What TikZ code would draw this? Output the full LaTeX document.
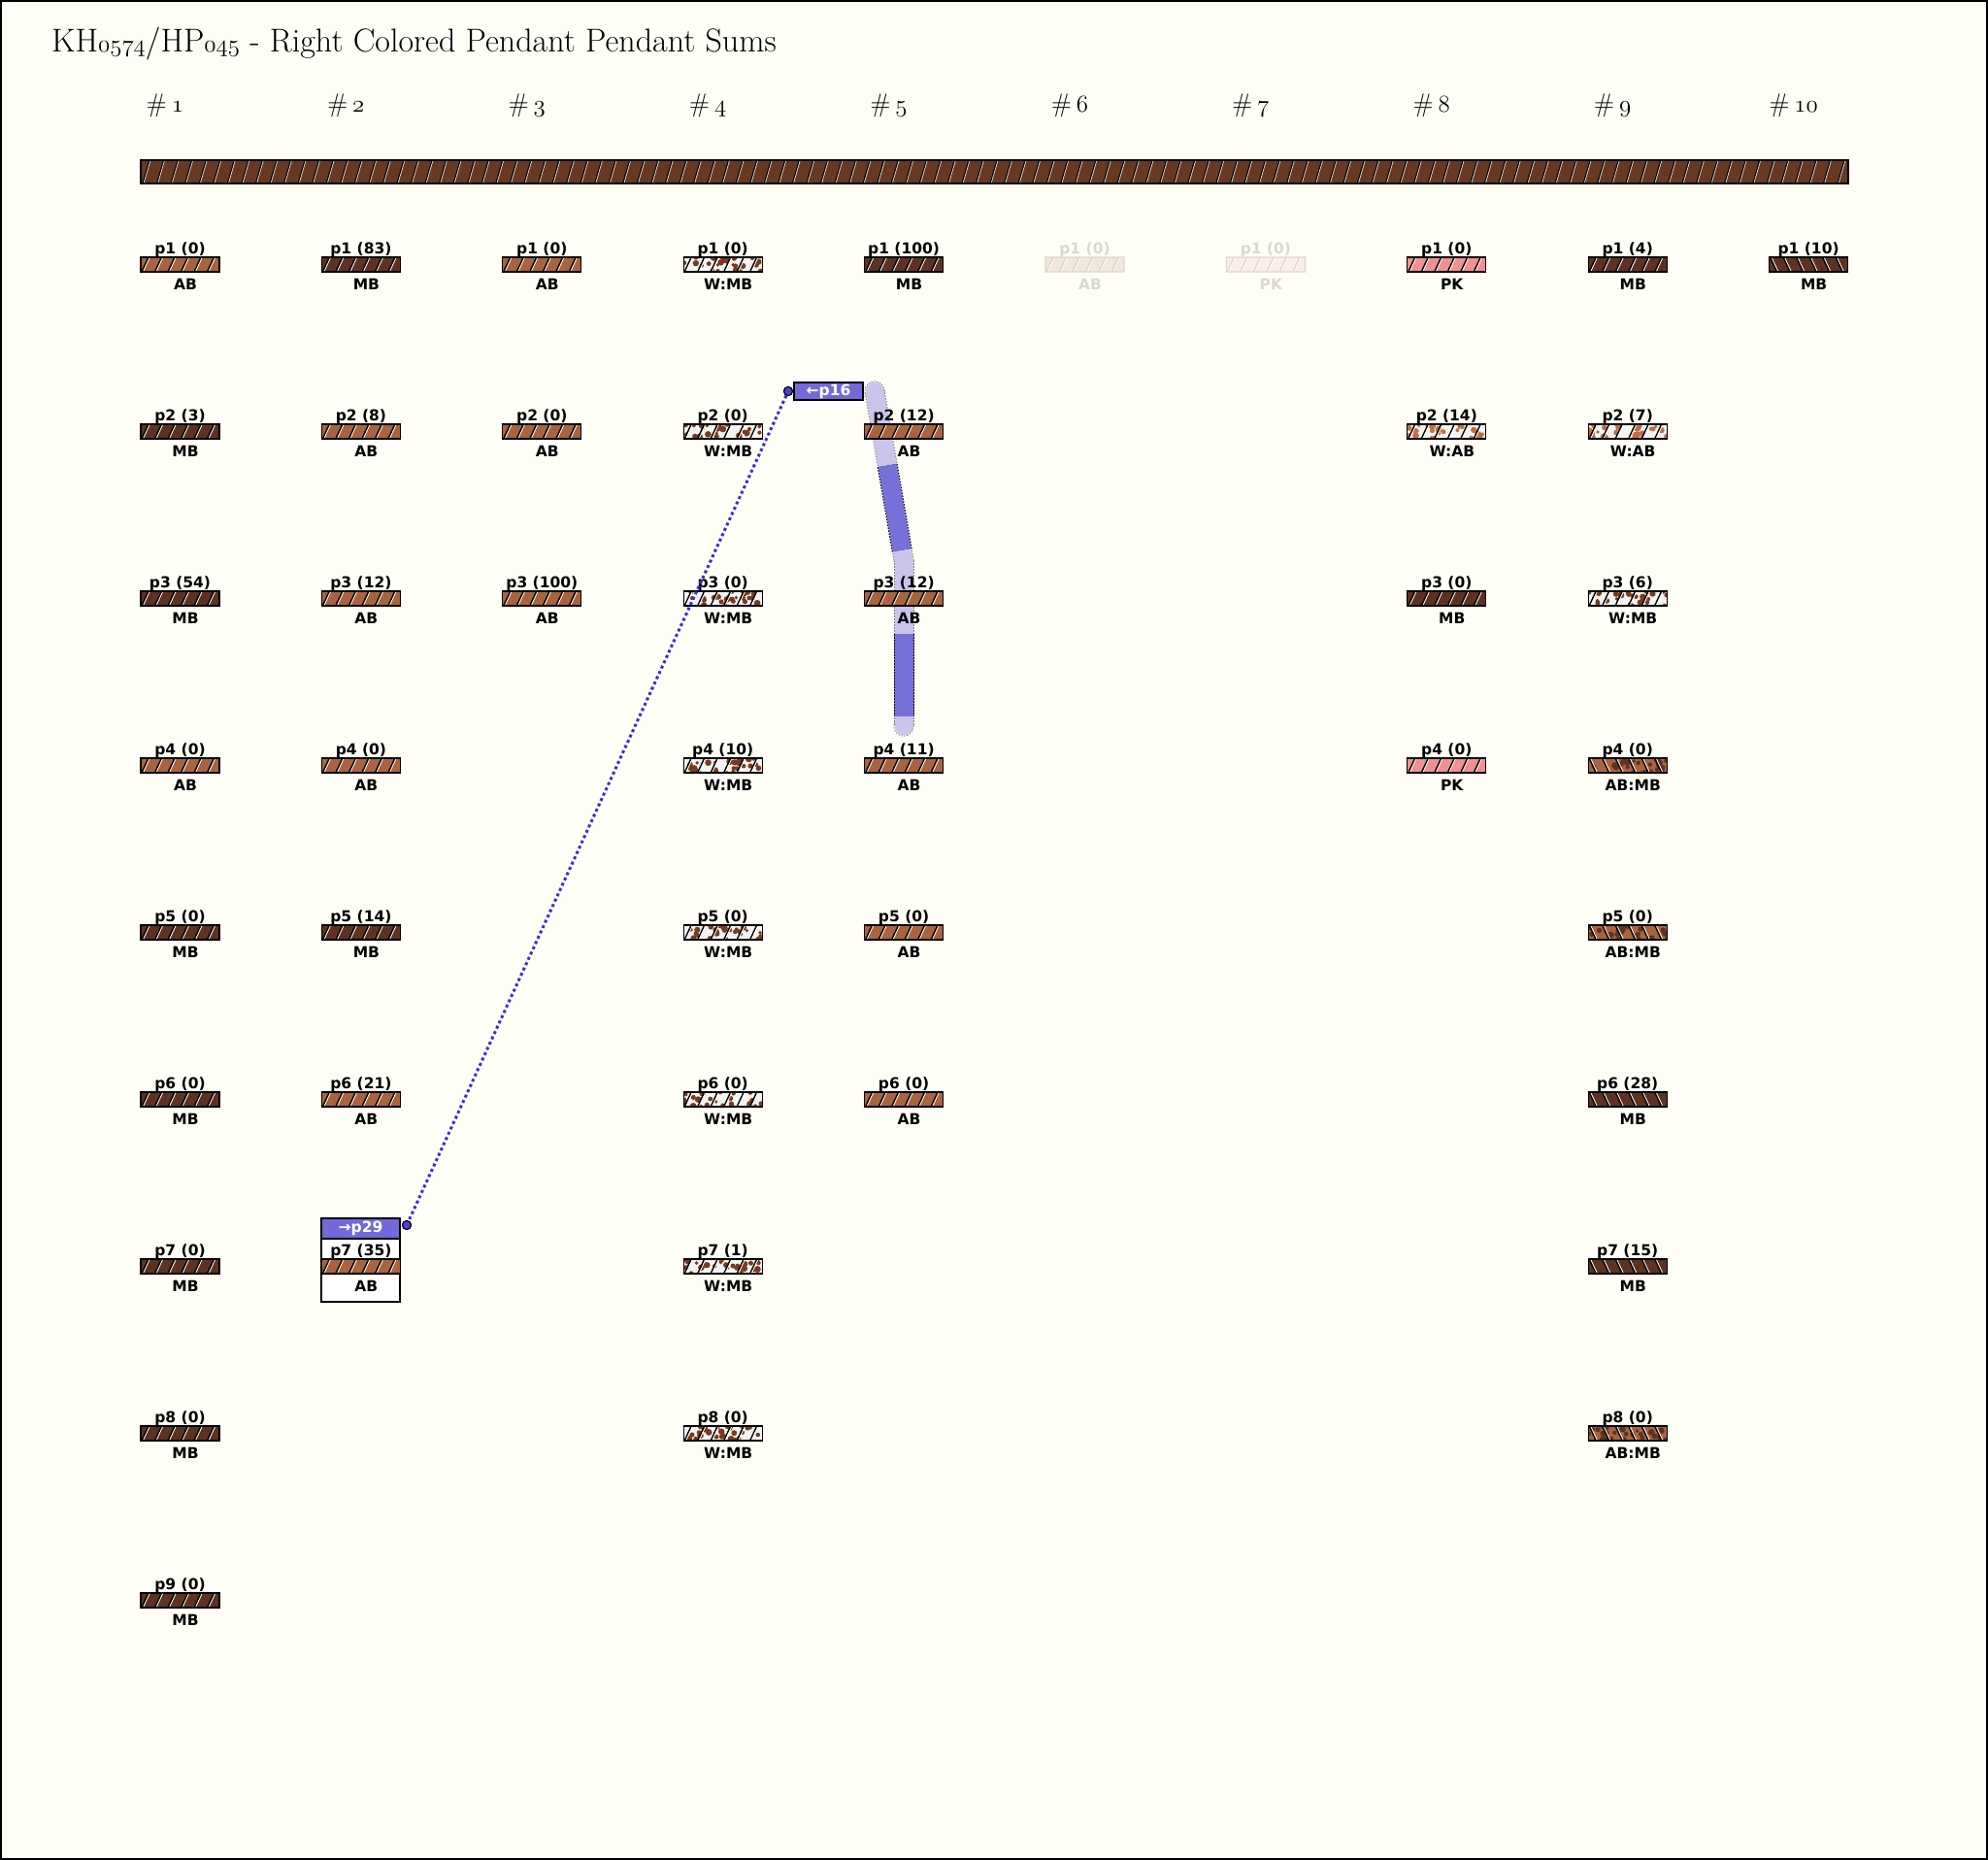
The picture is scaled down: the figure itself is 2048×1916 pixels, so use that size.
\documentclass[tikz,border=0pt]{standalone}
\usepackage{fontspec}
\newfontfamily\labfont{DejaVu Sans}
\usetikzlibrary{calc}
\definecolor{bg}{HTML}{FFFEF6}
\definecolor{abcol}{HTML}{A9643F}
\definecolor{mbcol}{HTML}{5E3220}
\definecolor{cordcol}{HTML}{673922}
\definecolor{pkcol}{HTML}{F09090}
\definecolor{wcol}{HTML}{F3F3F1}
\definecolor{spotmb}{HTML}{7A3A1E}
\definecolor{spotab}{HTML}{C0703F}
\definecolor{hlcol}{HTML}{7469D9}
\definecolor{bandlight}{HTML}{C9C5EB}
\definecolor{banddark}{HTML}{7670D9}
\definecolor{linkcol}{HTML}{3A2BE2}
\definecolor{dotcol}{HTML}{4A3FD6}

\newcommand\osd[1]{{\usefont{OML}{lmm}{m}{it}#1}}

\newcommand\barpic[3]{%
  \def\tmpa{#1}\def\tmpb{none}%
  \ifx\tmpa\tmpb\else
    \pgfmathsetseed{#3}%
    \foreach \k in {1,...,26}{%
      \pgfmathsetmacro\sx{rnd*81}\pgfmathsetmacro\sy{rnd*15}\pgfmathsetmacro\sr{1.8+rnd*1.7}%
      \fill[#1] ($(path picture bounding box.north west)+(\sx,\sy)$) circle (\sr pt);}%
  \fi
  \foreach \i in {0,...,5}{%
    \ifnum#2=1
      \draw[black,line width=1.5] ($(path picture bounding box.south west)+(1+13.5*\i,0)$) -- ++(7,-15);
      \draw[white,line width=0.8] ($(path picture bounding box.south west)+(2.4+13.5*\i,0)$) -- ++(7,-15);
    \else
      \draw[black,line width=1.5] ($(path picture bounding box.north west)+(1+13.5*\i,0)$) -- ++(7,15);
      \draw[white,line width=0.8] ($(path picture bounding box.north west)+(2.4+13.5*\i,0)$) -- ++(7,15);
    \fi}%
}

\tikzset{
  pbar/.style={draw=black, line width=1.2pt, minimum width=81pt, minimum height=15pt, inner sep=0pt, rectangle},
  plab/.style={anchor=base, inner sep=0pt, font=\labfont\bfseries\fontsize{15.5}{15.5}\selectfont},
  hlbox/.style={draw=black, line width=1.4pt, fill=hlcol, inner sep=0pt, text=white, font=\labfont\bfseries\fontsize{15.5}{15.5}\selectfont},
  linkdot/.style={circle, draw=black, line width=1pt, fill=dotcol, minimum size=9pt, inner sep=0pt},
  hdr/.style={anchor=base, inner sep=0pt, font=\fontsize{27}{27}\selectfont},
  bandout/.style={draw=gray, line width=0.8pt, dash pattern=on 1.5pt off 1.5pt},
}

% col,row,value,label,fill,spot,dir
\newcommand\pend[7]{%
  \pgfmathsetmacro\pcx{185.5+186.4*(#1-1)}%
  \pgfmathsetmacro\pty{265+172*(#2-1)}%
  \node[pbar, fill=#5, path picture={\barpic{#6}{#7}{#1#2}}] (c#1p#2) at (\pcx,\pty+7.5) {};
  \node[plab] (c#1p#2v) at (\pcx,\pty-3.5) {p#2 (#3)};
  \node[plab] (c#1p#2c) at (\pcx+5.5,\pty+33) {#4};
}

\begin{document}
\begin{tikzpicture}[x=1pt,y=-1pt]
\useasboundingbox (0,0) rectangle (2048,1916);
\fill[bg] (0,0) rectangle (2048,1916);
\draw[black, line width=2pt] (1,1) rectangle (2047,1915);

\node[anchor=base west, inner sep=0pt, font=\fontsize{34}{34}\selectfont] (title) at (53,54)
  {KH\osd{0574}/HP\osd{045} - Right Colored Pendant Pendant Sums};

\foreach \i in {1,...,10}
  \node[hdr] (h\i) at (170+186.4*\i-186.4,116) {\#\hspace{5pt}\osd{\i}};

% main cord
\node[draw=black, line width=2pt, fill=cordcol, minimum width=1759pt, minimum height=24pt, inner sep=0pt,
  path picture={\foreach \i in {0,...,120}{%
     \draw[black,line width=1.1] ($(path picture bounding box.south west)+(2+14.55*\i,0)$) -- ++(7,-24);
     \draw[white!75!gray,line width=0.7] ($(path picture bounding box.south west)+(3.1+14.55*\i,0)$) -- ++(7,-24);}}]
  (cord) at (1024.5,177) {};

% highlight band in column 5
\coordinate (bA) at (901,403);
\coordinate (bB) at (931,577);
\coordinate (bC) at (931,748);
\draw[bandout, line width=21pt] (bA) -- (bB);
\draw[bandout, line width=21pt] (bB) -- (bC);
\draw[bandout] (bA) circle (10.2pt) (bB) circle (10.2pt) (bC) circle (10.2pt);
\draw[bandlight, line width=19pt, line cap=round] (bA) -- (bB);
\draw[bandlight, line width=19pt, line cap=round] (bB) -- (bC);
\draw[black, line width=21pt, dash pattern=on 1.5pt off 1.5pt] ($(bA)!0.44!(bB)$) -- ($(bA)!0.94!(bB)$);
\draw[banddark, line width=19pt] ($(bA)!0.44!(bB)$) -- ($(bA)!0.94!(bB)$);
\draw[black, line width=21pt, dash pattern=on 1.5pt off 1.5pt] ($(bB)!0.445!(bC)$) -- ($(bB)!0.94!(bC)$);
\draw[banddark, line width=19pt] ($(bB)!0.445!(bC)$) -- ($(bB)!0.94!(bC)$);

% box behind col 2 p7
\node[draw=black, line width=1.5pt, fill=white, minimum width=81pt, minimum height=86pt, inner sep=0pt] (box29) at (371.5,1298) {};

% column 1
\pend{1}{1}{0}{AB}{abcol}{none}{1}
\pend{1}{2}{3}{MB}{mbcol}{none}{1}
\pend{1}{3}{54}{MB}{mbcol}{none}{1}
\pend{1}{4}{0}{AB}{abcol}{none}{1}
\pend{1}{5}{0}{MB}{mbcol}{none}{1}
\pend{1}{6}{0}{MB}{mbcol}{none}{1}
\pend{1}{7}{0}{MB}{mbcol}{none}{1}
\pend{1}{8}{0}{MB}{mbcol}{none}{1}
\pend{1}{9}{0}{MB}{mbcol}{none}{1}
% column 2
\pend{2}{1}{83}{MB}{mbcol}{none}{1}
\pend{2}{2}{8}{AB}{abcol}{none}{1}
\pend{2}{3}{12}{AB}{abcol}{none}{1}
\pend{2}{4}{0}{AB}{abcol}{none}{1}
\pend{2}{5}{14}{MB}{mbcol}{none}{1}
\pend{2}{6}{21}{AB}{abcol}{none}{1}
\pend{2}{7}{35}{AB}{abcol}{none}{1}
% column 3
\pend{3}{1}{0}{AB}{abcol}{none}{1}
\pend{3}{2}{0}{AB}{abcol}{none}{1}
\pend{3}{3}{100}{AB}{abcol}{none}{1}
% column 4
\pend{4}{1}{0}{W:MB}{wcol}{spotmb}{1}
\pend{4}{2}{0}{W:MB}{wcol}{spotmb}{1}
\pend{4}{3}{0}{W:MB}{wcol}{spotmb}{1}
\pend{4}{4}{10}{W:MB}{wcol}{spotmb}{1}
\pend{4}{5}{0}{W:MB}{wcol}{spotmb}{1}
\pend{4}{6}{0}{W:MB}{wcol}{spotmb}{1}
\pend{4}{7}{1}{W:MB}{wcol}{spotmb}{1}
\pend{4}{8}{0}{W:MB}{wcol}{spotmb}{1}
% column 5
\pend{5}{1}{100}{MB}{mbcol}{none}{1}
\pend{5}{2}{12}{AB}{abcol}{none}{1}
\pend{5}{3}{12}{AB}{abcol}{none}{1}
\pend{5}{4}{11}{AB}{abcol}{none}{1}
\pend{5}{5}{0}{AB}{abcol}{none}{1}
\pend{5}{6}{0}{AB}{abcol}{none}{1}
% columns 6 and 7 (faded)
\begin{scope}[transparency group, opacity=0.15]
\pend{6}{1}{0}{AB}{abcol}{none}{1}
\end{scope}
\begin{scope}[transparency group, opacity=0.15]
\pend{7}{1}{0}{PK}{pkcol}{none}{1}
\end{scope}
% column 8
\pend{8}{1}{0}{PK}{pkcol}{none}{1}
\pend{8}{2}{14}{W:AB}{wcol}{spotab}{1}
\pend{8}{3}{0}{MB}{mbcol}{none}{1}
\pend{8}{4}{0}{PK}{pkcol}{none}{1}
% column 9
\pend{9}{1}{4}{MB}{mbcol}{none}{1}
\pend{9}{2}{7}{W:AB}{wcol}{spotab}{1}
\pend{9}{3}{6}{W:MB}{wcol}{spotmb}{1}
\pend{9}{4}{0}{AB:MB}{abcol}{mbcol}{-1}
\pend{9}{5}{0}{AB:MB}{abcol}{mbcol}{-1}
\pend{9}{6}{28}{MB}{mbcol}{none}{-1}
\pend{9}{7}{15}{MB}{mbcol}{none}{-1}
\pend{9}{8}{0}{AB:MB}{abcol}{mbcol}{-1}
% column 10
\pend{10}{1}{10}{MB}{mbcol}{none}{-1}

% header of the box round col 2 p7
\node[hlbox, minimum width=81pt, minimum height=21pt] (h29) at (371.5,1265.5) {→p29};

% link
\node[hlbox, minimum width=71pt, minimum height=18pt] (b16) at (853.5,403) {←p16};
\node[linkdot] (d1) at (812,403) {};
\node[linkdot] (d2) at (419,1262) {};
\draw[linkcol, line width=3pt, dash pattern=on 3pt off 3pt] (d1) -- (d2);
\node[linkdot] at (d1) {};
\node[linkdot] at (d2) {};
\end{tikzpicture}
\end{document}
